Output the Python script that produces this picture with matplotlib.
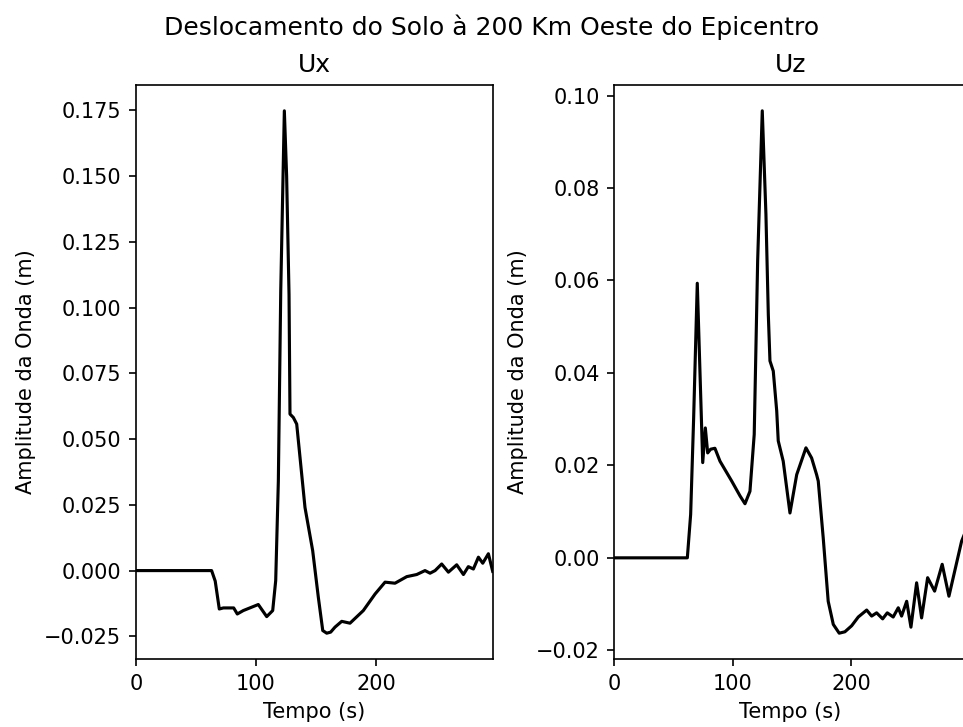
import numpy as np
import matplotlib
matplotlib.use("Agg")
import matplotlib.pyplot as plt
from matplotlib.ticker import MultipleLocator

# Ux: horizontal displacement (m) vs time (s)
t_ux = [0, 63.0, 66.0, 69.4, 72.8, 81.4, 84.4, 89.4, 101.9, 108.9, 113.9, 116.4,
        118.6, 120.6, 123.6, 125.5, 127.5, 128.3, 131.1, 133.9, 140.8, 147.2,
        151.9, 155.6, 158.9, 162.2, 165.8, 171.4, 178.3, 189.4, 199.2, 207.5,
        215.8, 225.6, 233.9, 240.8, 245.0, 249.2, 254.7, 260.3, 267.2, 272.8,
        276.9, 281.1, 285.3, 288.9, 293.6, 297.2]
ux = [0.0, 0.0, -0.004, -0.0146, -0.0142, -0.0142, -0.0165, -0.0152, -0.0129,
      -0.0175, -0.0152, -0.0038, 0.034, 0.1064, 0.1748, 0.150, 0.105, 0.0595,
      0.0582, 0.0557, 0.024, 0.0076, -0.0101, -0.0228, -0.0238, -0.0234,
      -0.0215, -0.0193, -0.020, -0.0152, -0.0089, -0.0044, -0.0048, -0.0023,
      -0.0015, 0.0, -0.001, 0.0, 0.0025, -0.0006, 0.0022, -0.0015, 0.0015,
      0.0006, 0.0051, 0.0028, 0.0064, -0.0003]

# Uz: vertical displacement (m) vs time (s)
t_uz = [0, 61.7, 64.5, 67.0, 70.1, 74.7, 76.9, 78.9, 81.4, 85.0, 89.3, 99.2,
        106.2, 110.4, 114.6, 118.2, 121.1, 125.0, 128.1, 130.1, 131.5, 134.3,
        137.2, 138.5, 142.7, 148.4, 154.1, 161.9, 166.7, 170.9, 172.3, 176.5,
        180.7, 185.0, 190.0, 194.8, 200.5, 206.1, 213.2, 217.4, 221.6, 226.7,
        230.6, 235.6, 239.9, 242.7, 247.0, 250.6, 255.4, 259.6, 264.7, 270.6,
        277.0, 282.7, 293.4, 297.2]
uz = [0.0, 0.0, 0.0094, 0.030, 0.0594, 0.0206, 0.0281, 0.0227, 0.0235, 0.0237,
      0.0209, 0.0166, 0.0134, 0.0117, 0.0144, 0.0267, 0.0642, 0.0967, 0.0743,
      0.0527, 0.0426, 0.0404, 0.0318, 0.0253, 0.0209, 0.0097, 0.018, 0.0238,
      0.0216, 0.018, 0.0166, 0.0043, -0.0094, -0.0144, -0.0163, -0.016,
      -0.0147, -0.0128, -0.0113, -0.0126, -0.0119, -0.0132, -0.0119, -0.0128,
      -0.0108, -0.0126, -0.0094, -0.015, -0.0054, -0.013, -0.0043, -0.0072,
      -0.0014, -0.0083, 0.0036, 0.006]

W, H, DPI = 963, 727, 150
fig = plt.figure(figsize=(W / DPI, H / DPI), dpi=DPI)

ax1 = fig.add_axes([136 / W, (H - 659.3) / H, 356.7 / W, 574.6 / H])
ax1.plot(t_ux, ux, color='k')
ax1.set_xlim(0, 297.2)
ax1.xaxis.set_major_locator(MultipleLocator(100))
ax1.set_title('Ux')
ax1.set_xlabel('Tempo (s)')
ax1.set_ylabel('Amplitude da Onda (m)')

ax2 = fig.add_axes([614.3 / W, (H - 659.3) / H, 351.8 / W, 574.6 / H])
ax2.plot(t_uz, uz, color='k')
ax2.set_xlim(0, 297.2)
ax2.xaxis.set_major_locator(MultipleLocator(100))
ax2.set_title('Uz')
ax2.set_xlabel('Tempo (s)')
ax2.set_ylabel('Amplitude da Onda (m)')

fig.suptitle('Deslocamento do Solo à 200 Km Oeste do Epicentro', x=492 / W)

fig.savefig('out.png', dpi=DPI)
